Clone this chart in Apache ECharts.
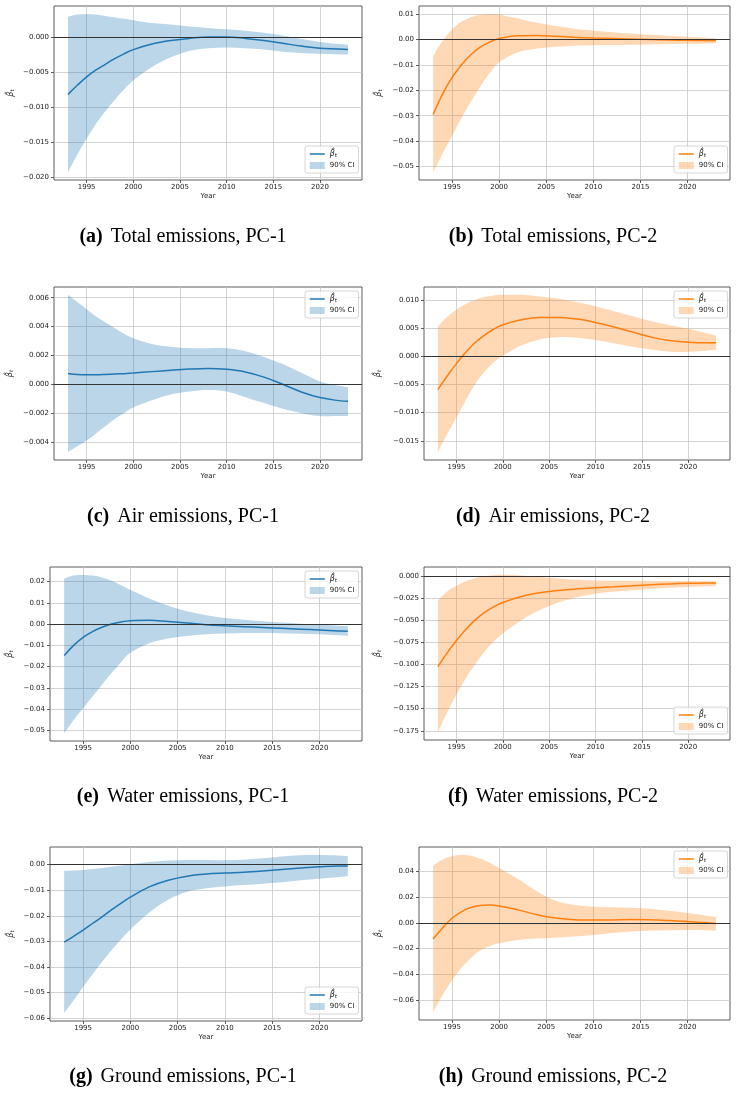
<!DOCTYPE html>
<html>
<head>
<meta charset="utf-8">
<script src="https://cdn.jsdelivr.net/npm/echarts@6/dist/echarts.min.js"></script>
<style>
  html, body { margin: 0; padding: 0; background: #fff; }
  #chart { width: 737px; height: 1094px; }
</style>
</head>
<body>
<div id="chart"></div>
<script>
// years sampled along the smooth curves
const years = [1993, 1994, 1995, 1996, 1997, 1998, 1999, 2000, 2002, 2004, 2006, 2008, 2010, 2012, 2014, 2016, 2018, 2020, 2022, 2023];
const xTicks = [1995, 2000, 2005, 2010, 2015, 2020];

// (a) Total emissions, PC-1
const meanA  = [-0.0082, -0.0069, -0.0057, -0.0047, -0.0039, -0.0031, -0.0024, -0.0018, -0.0010, -0.0005, -0.0002, 0.0000, 0.0000, -0.0002, -0.0005, -0.0009, -0.0013, -0.0016, -0.0017, -0.0018];
const upperA = [0.0029, 0.0032, 0.0033, 0.0032, 0.0030, 0.0028, 0.0026, 0.0024, 0.0020, 0.0018, 0.0015, 0.0013, 0.0011, 0.0009, 0.0006, 0.0002, -0.0003, -0.0007, -0.0010, -0.0011];
const lowerA = [-0.0193, -0.0168, -0.0145, -0.0124, -0.0106, -0.0090, -0.0075, -0.0062, -0.0043, -0.0029, -0.0020, -0.0016, -0.0015, -0.0016, -0.0018, -0.0021, -0.0023, -0.0024, -0.0025, -0.0025];

// (b) Total emissions, PC-2
const meanB  = [-0.0295, -0.0215, -0.0150, -0.0100, -0.0060, -0.0030, -0.0010, 0.0004, 0.0015, 0.0016, 0.0013, 0.0009, 0.0006, 0.0004, 0.0002, 0.0000, -0.0002, -0.0003, -0.0004, -0.0004];
const upperB = [-0.0065, -0.0005, 0.0040, 0.0070, 0.0088, 0.0098, 0.0101, 0.0098, 0.0083, 0.0066, 0.0053, 0.0043, 0.0035, 0.0029, 0.0024, 0.0019, 0.0015, 0.0011, 0.0007, 0.0005];
const lowerB = [-0.0522, -0.0450, -0.0380, -0.0310, -0.0245, -0.0185, -0.0132, -0.0090, -0.0050, -0.0035, -0.0028, -0.0024, -0.0022, -0.0021, -0.0020, -0.0019, -0.0018, -0.0017, -0.0016, -0.0015];

// (c) Air emissions, PC-1
const meanC  = [0.00075, 0.00068, 0.00066, 0.00066, 0.00068, 0.00071, 0.00074, 0.00078, 0.00088, 0.00098, 0.00106, 0.00110, 0.00104, 0.00086, 0.00050, 0.00000, -0.00053, -0.00092, -0.00113, -0.00118];
const upperC = [0.0062, 0.0057, 0.0052, 0.0047, 0.0043, 0.0039, 0.0035, 0.0032, 0.0028, 0.0026, 0.0025, 0.0025, 0.0025, 0.0023, 0.0019, 0.0014, 0.0008, 0.0002, -0.0001, -0.0002];
const lowerC = [-0.0047, -0.0043, -0.0039, -0.0034, -0.0029, -0.0024, -0.0020, -0.0016, -0.0011, -0.0007, -0.0005, -0.0004, -0.0005, -0.0009, -0.0013, -0.0017, -0.0020, -0.0022, -0.0022, -0.0022];

// (d) Air emissions, PC-2
const meanD  = [-0.0059, -0.0035, -0.0013, 0.0007, 0.0024, 0.0037, 0.0048, 0.0056, 0.0065, 0.0069, 0.0069, 0.0066, 0.0060, 0.0052, 0.0043, 0.0034, 0.0028, 0.0025, 0.0024, 0.0024];
const upperD = [0.0053, 0.0070, 0.0083, 0.0093, 0.0100, 0.0105, 0.0108, 0.0109, 0.0109, 0.0106, 0.0102, 0.0096, 0.0089, 0.0080, 0.0071, 0.0062, 0.0055, 0.0049, 0.0041, 0.0037];
const lowerD = [-0.0170, -0.0138, -0.0108, -0.0078, -0.0050, -0.0028, -0.0011, 0.0001, 0.0019, 0.0030, 0.0034, 0.0033, 0.0029, 0.0023, 0.0017, 0.0012, 0.0008, 0.0008, 0.0010, 0.0011];

// (e) Water emissions, PC-1
const meanE  = [-0.0148, -0.0100, -0.0062, -0.0035, -0.0015, 0.0000, 0.0010, 0.0016, 0.0018, 0.0012, 0.0005, -0.0003, -0.0008, -0.0012, -0.0016, -0.0020, -0.0024, -0.0028, -0.0032, -0.0034];
const upperE = [0.0214, 0.0228, 0.0231, 0.0228, 0.0219, 0.0203, 0.0183, 0.0161, 0.0120, 0.0086, 0.0060, 0.0042, 0.0029, 0.0020, 0.0013, 0.0007, 0.0002, -0.0003, -0.0008, -0.0010];
const lowerE = [-0.0512, -0.0450, -0.0395, -0.0340, -0.0285, -0.0230, -0.0180, -0.0135, -0.0090, -0.0068, -0.0056, -0.0048, -0.0044, -0.0042, -0.0042, -0.0043, -0.0045, -0.0048, -0.0053, -0.0056];

// (f) Water emissions, PC-2
const meanF  = [-0.1025, -0.0870, -0.0730, -0.0605, -0.0500, -0.0415, -0.0350, -0.0300, -0.0232, -0.0190, -0.0164, -0.0146, -0.0133, -0.0122, -0.0110, -0.0099, -0.0090, -0.0084, -0.0081, -0.0080];
const upperF = [-0.0275, -0.0175, -0.0110, -0.0060, -0.0025, -0.0003, 0.0008, 0.0012, 0.0005, -0.0012, -0.0030, -0.0043, -0.0051, -0.0054, -0.0055, -0.0056, -0.0057, -0.0058, -0.0060, -0.0062];
const lowerF = [-0.1765, -0.1540, -0.1340, -0.1160, -0.1000, -0.0860, -0.0745, -0.0650, -0.0500, -0.0385, -0.0300, -0.0240, -0.0200, -0.0178, -0.0162, -0.0148, -0.0135, -0.0124, -0.0116, -0.0113];

// (g) Ground emissions, PC-1
const meanG  = [-0.0303, -0.0280, -0.0256, -0.0230, -0.0204, -0.0177, -0.0151, -0.0127, -0.0087, -0.0061, -0.0045, -0.0037, -0.0033, -0.0030, -0.0025, -0.0019, -0.0013, -0.0008, -0.0005, -0.0005];
const upperG = [-0.0024, -0.0023, -0.0021, -0.0017, -0.0013, -0.0008, -0.0003, 0.0001, 0.0010, 0.0016, 0.0018, 0.0018, 0.0017, 0.0019, 0.0025, 0.0032, 0.0037, 0.0038, 0.0036, 0.0034];
const lowerG = [-0.0580, -0.0530, -0.0478, -0.0428, -0.0380, -0.0334, -0.0292, -0.0254, -0.0187, -0.0137, -0.0106, -0.0092, -0.0085, -0.0080, -0.0075, -0.0069, -0.0061, -0.0055, -0.0048, -0.0045];

// (h) Ground emissions, PC-2
const meanH  = [-0.0125, -0.0040, 0.0035, 0.0085, 0.0118, 0.0134, 0.0137, 0.0130, 0.0100, 0.0063, 0.0037, 0.0024, 0.0021, 0.0022, 0.0025, 0.0023, 0.0017, 0.0009, 0.0000, -0.0005];
const upperH = [0.0441, 0.0490, 0.0516, 0.0526, 0.0520, 0.0498, 0.0465, 0.0425, 0.0340, 0.0245, 0.0170, 0.0138, 0.0125, 0.0120, 0.0117, 0.0108, 0.0093, 0.0075, 0.0055, 0.0045];
const lowerH = [-0.0692, -0.0560, -0.0445, -0.0350, -0.0272, -0.0215, -0.0180, -0.0158, -0.0133, -0.0122, -0.0115, -0.0106, -0.0095, -0.0080, -0.0068, -0.0062, -0.0058, -0.0055, -0.0057, -0.0059];

const letters  = ['a', 'b', 'c', 'd', 'e', 'f', 'g', 'h'];
const captions = ['Total emissions, PC-1', 'Total emissions, PC-2', 'Air emissions, PC-1', 'Air emissions, PC-2',
                  'Water emissions, PC-1', 'Water emissions, PC-2', 'Ground emissions, PC-1', 'Ground emissions, PC-2'];
const yStep     = [0.005, 0.01, 0.002, 0.005, 0.01, 0.025, 0.01, 0.02];
const yDecimals = [3, 2, 3, 3, 2, 3, 2, 2];

const means  = [meanA, meanB, meanC, meanD, meanE, meanF, meanG, meanH];
const uppers = [upperA, upperB, upperC, upperD, upperE, upperF, upperG, upperH];
const lowers = [lowerA, lowerB, lowerC, lowerD, lowerE, lowerF, lowerG, lowerH];

// layout (pixels)
const grids = [
  { left: 54, top: 6, width: 308, height: 174 },
  { left: 419, top: 6, width: 311, height: 174 },
  { left: 54, top: 287, width: 308, height: 173 },
  { left: 424, top: 287, width: 306, height: 173 },
  { left: 50, top: 567, width: 312, height: 174 },
  { left: 424, top: 567, width: 306, height: 173 },
  { left: 50, top: 847, width: 312, height: 174 },
  { left: 419, top: 847, width: 311, height: 173 }
];
const yNameGap = [38, 35, 39, 41, 35, 41, 34, 35];
const legendPos = [[305, 146], [674, 146], [305, 291], [674, 291], [305, 571], [674, 707], [305, 987], [674, 851]];
const captionPos = [[183, 237], [553, 237], [183, 517], [553, 517], [183, 797], [553, 797], [183, 1077], [553, 1077]];

const BLUE = '#1f77b4', BLUE_BAND = 'rgba(31,119,180,0.3)';
const ORANGE = '#ff7f0e', ORANGE_BAND = 'rgba(255,127,14,0.3)';
const BETA = 'β̂t';
const FONT = 'DejaVu Sans';

function tickValues(min, max, step) {
  const out = [];
  for (let k = Math.ceil(min / step - 1e-9); k * step <= max + 1e-12; k++) {
    out.push(+(k * step).toFixed(6));
  }
  return out;
}

function fmt(v, dec) {
  let s = v.toFixed(dec);
  if (parseFloat(s) === 0) s = (0).toFixed(dec);
  return s.replace('-', '\u2212');
}

// catmull-rom through pixel points, as bezier commands
function spline(p) {
  let s = '';
  const t = 1 / 6;
  for (let k = 0; k < p.length - 1; k++) {
    const p0 = p[Math.max(k - 1, 0)], p1 = p[k], p2 = p[k + 1], p3 = p[Math.min(k + 2, p.length - 1)];
    const c1 = [p1[0] + (p2[0] - p0[0]) * t, p1[1] + (p2[1] - p0[1]) * t];
    const c2 = [p2[0] - (p3[0] - p1[0]) * t, p2[1] - (p3[1] - p1[1]) * t];
    s += 'C' + c1.join(',') + ',' + c2.join(',') + ',' + p2.join(',');
  }
  return s;
}

function bandRenderer(i, fill) {
  return function (params, api) {
    if (params.dataIndex !== 0) return null;
    const up = years.map((y, k) => api.coord([y, uppers[i][k]]));
    const dn = years.map((y, k) => api.coord([y, lowers[i][k]])).reverse();
    const d = 'M' + up[0].join(',') + spline(up) + 'L' + dn[0].join(',') + spline(dn) + 'Z';
    return { type: 'path', shape: { pathData: d }, style: { fill: fill, stroke: null } };
  };
}

const betaRich = {
  h: { fontSize: 8, fontStyle: 'italic', fontFamily: FONT, color: '#222' },
  s: { fontSize: 5.5, fontStyle: 'italic', fontFamily: FONT, color: '#222', padding: [4, 0, 0, 0] }
};

const option = {
  animation: false,
  backgroundColor: '#fff',
  grid: [], xAxis: [], yAxis: [], series: [], legend: [], graphic: []
};

for (let i = 0; i < 8; i++) {
  const blue = i % 2 === 0;
  const color = blue ? BLUE : ORANGE;
  const band = blue ? BLUE_BAND : ORANGE_BAND;
  const lo = Math.min(...lowers[i], ...means[i]);
  const hi = Math.max(...uppers[i], ...means[i]);
  const pad = (hi - lo) * 0.05;
  const yMin = lo - pad, yMax = hi + pad;
  const yTicks = tickValues(yMin, yMax, yStep[i]);
  const dec = yDecimals[i];
  const tag = '#' + letters[i];

  option.grid.push(Object.assign({
    show: true, borderColor: '#333', borderWidth: 0.8, backgroundColor: '#fff'
  }, grids[i]));

  option.xAxis.push({
    type: 'value', gridIndex: i, min: 1991.5, max: 2024.5,
    axisLine: { show: false, onZero: false },
    axisTick: { show: true, customValues: xTicks, length: 3, lineStyle: { color: '#333', width: 0.8 } },
    axisLabel: { customValues: xTicks, formatter: v => String(v), fontSize: 7, fontFamily: FONT, color: '#222', margin: 4 },
    splitLine: { show: true, lineStyle: { color: '#c8c8c8', width: 0.8 } },
    name: 'Year', nameLocation: 'middle', nameGap: 13,
    nameTextStyle: { fontSize: 7, fontFamily: FONT, color: '#222' }
  });

  option.yAxis.push({
    type: 'value', gridIndex: i, min: yMin, max: yMax,
    axisLine: { show: false, onZero: false },
    axisTick: { show: true, customValues: yTicks, length: 3, lineStyle: { color: '#333', width: 0.8 } },
    axisLabel: { customValues: yTicks, formatter: v => fmt(v, dec), fontSize: 7, fontFamily: FONT, color: '#222', margin: 5 },
    splitLine: { show: true, lineStyle: { color: '#c8c8c8', width: 0.8 } },
    name: '{h|β̂}{s|t}', nameLocation: 'middle', nameGap: yNameGap[i], nameRotate: 90,
    nameTextStyle: { rich: betaRich }
  });

  // 90% CI band
  option.series.push({
    type: 'custom', xAxisIndex: i, yAxisIndex: i, name: '90% CI' + tag,
    itemStyle: { color: band }, silent: true,
    encode: { x: 0, y: [1, 2] },
    data: years.map((y, k) => [y, lowers[i][k], uppers[i][k]]),
    renderItem: bandRenderer(i, band)
  });
  option.series.push({
    type: 'line', xAxisIndex: i, yAxisIndex: i, name: BETA + tag,
    symbol: 'none', smooth: 0.4, color: color,
    lineStyle: { color: color, width: 1.5 },
    data: years.map((y, k) => [y, means[i][k]]),
    markLine: {
      silent: true, symbol: ['none', 'none'], label: { show: false },
      lineStyle: { color: '#333', width: 1, type: 'solid' },
      data: [{ yAxis: 0 }]
    }
  });

  option.legend.push({
    orient: 'vertical', left: legendPos[i][0], top: legendPos[i][1],
    padding: [4, 4, 4, 4], itemGap: 3, itemWidth: 15, itemHeight: 7,
    backgroundColor: 'rgba(255,255,255,0.8)', borderColor: '#cccccc', borderWidth: 0.8, borderRadius: 2,
    selectedMode: false,
    textStyle: { fontSize: 7, fontFamily: FONT, color: '#222', rich: betaRich },
    formatter: n => {
      const base = n.split('#')[0];
      return base === BETA ? '{h|β̂}{s|t}' : base;
    },
    data: [
      { name: BETA + tag, lineStyle: { color: color, width: 1.5 }, itemStyle: { color: 'rgba(0,0,0,0)', borderWidth: 0 } },
      { name: '90% CI' + tag, icon: 'rect', itemStyle: { color: band, borderWidth: 0 } }
    ]
  });

  option.graphic.push({
    type: 'text', x: captionPos[i][0], y: captionPos[i][1],
    style: {
      text: '{b|(' + letters[i] + ')}{n|' + captions[i] + '}',
      align: 'center', verticalAlign: 'middle',
      rich: {
        b: { fontSize: 20, fontWeight: 'bold', fontFamily: 'Liberation Serif', fill: '#000', padding: [0, 8, 0, 0] },
        n: { fontSize: 20, fontFamily: 'Liberation Serif', fill: '#000' }
      }
    }
  });
}

const chart = echarts.init(document.getElementById('chart'), null, { renderer: 'canvas' });
chart.setOption(option);
</script>
</body>
</html>
